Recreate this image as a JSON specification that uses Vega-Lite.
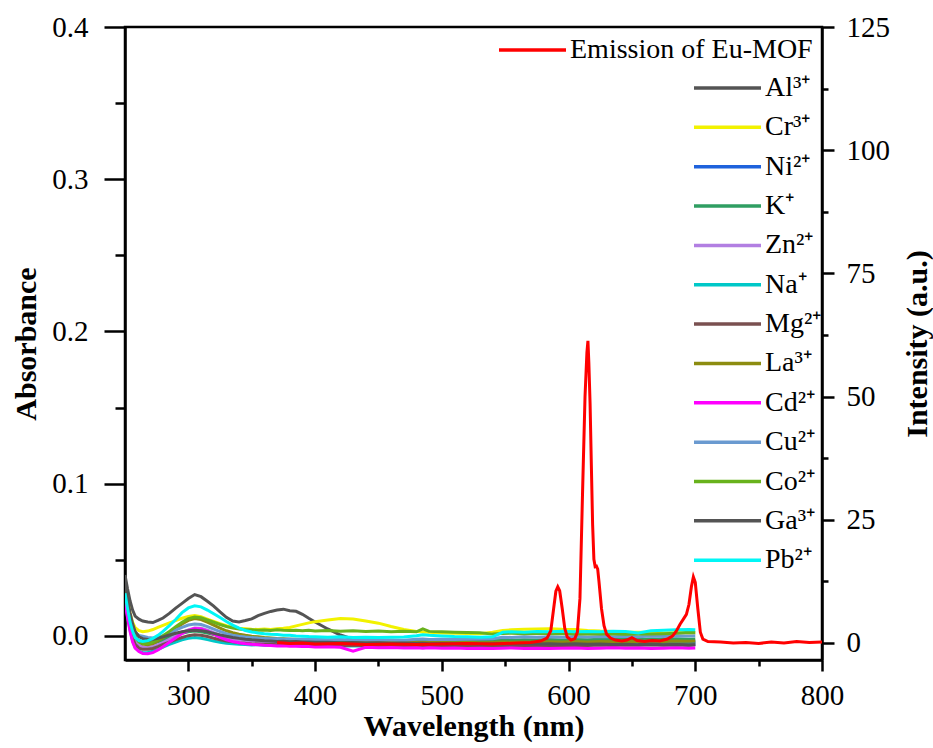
{
  "$schema": "https://vega.github.io/schema/vega-lite/v6.json",
  "width": 697,
  "height": 633,
  "autosize": {"type": "none"},
  "padding": {"left": 125, "top": 27, "right": 111, "bottom": 88},
  "background": "white",
  "config": {
    "font": "Liberation Serif",
    "view": {"stroke": "black", "strokeWidth": 2.5},
    "axis": {
      "domainColor": "black", "domainWidth": 2.5, "tickColor": "black", "tickWidth": 2.5,
      "labelColor": "black", "labelFont": "Liberation Serif", "labelFontSize": 29,
      "titleFont": "Liberation Serif", "titleFontSize": 30, "titleFontWeight": "bold", "titleColor": "black",
      "grid": false, "labelFlush": false, "labelOverlap": false
    },
    "legend": {
      "labelFont": "Liberation Serif", "labelFontSize": 28, "labelColor": "black", "labelLimit": 0,
      "symbolType": "stroke", "symbolSize": 4489, "symbolStrokeWidth": 3.5, "padding": 0, "offset": 0,
      "clipHeight": 28, "rowPadding": 11.35, "labelOffset": 2
    }
  },
  "datasets": {
    "abs": [
      {"w":250,"Al":0.040,"Cr":0.033,"Ni":0.027,"K":0.026,"Zn":0.025,"Na":0.024,"Mg":0.025,"La":0.030,"Cd":0.022,"Cu":0.029,"Co":0.030,"Ga":0.036,"Pb":0.028},
      {"w":252,"Al":0.031,"Cr":0.023,"Ni":0.017,"K":0.016,"Zn":0.015,"Na":0.013,"Mg":0.014,"La":0.020,"Cd":0.012,"Cu":0.020,"Co":0.020,"Ga":0.025,"Pb":0.018},
      {"w":254,"Al":0.023,"Cr":0.015,"Ni":0.009,"K":0.008,"Zn":0.007,"Na":0.004,"Mg":0.006,"La":0.012,"Cd":0.003,"Cu":0.011,"Co":0.011,"Ga":0.015,"Pb":0.009},
      {"w":256,"Al":0.017,"Cr":0.009,"Ni":0.003,"K":0.002,"Zn":0.001,"Na":-0.003,"Mg":-0.001,"La":0.005,"Cd":-0.004,"Cu":0.005,"Co":0.004,"Ga":0.008,"Pb":0.003},
      {"w":258,"Al":0.013,"Cr":0.0055,"Ni":-0.0005,"K":-0.0015,"Zn":-0.003,"Na":-0.0075,"Mg":-0.0055,"La":0.0,"Cd":-0.008,"Cu":0.002,"Co":-0.001,"Ga":0.003,"Pb":-0.001},
      {"w":261,"Al":0.011,"Cr":0.0035,"Ni":-0.003,"K":-0.004,"Zn":-0.006,"Na":-0.010,"Mg":-0.008,"La":-0.0038,"Cd":-0.0102,"Cu":0.0004,"Co":-0.0038,"Ga":-0.0005,"Pb":-0.003},
      {"w":264,"Al":0.0098,"Cr":0.0028,"Ni":-0.004,"K":-0.005,"Zn":-0.0072,"Na":-0.011,"Mg":-0.0088,"La":-0.0053,"Cd":-0.0115,"Cu":-0.0002,"Co":-0.0049,"Ga":-0.0018,"Pb":-0.0036},
      {"w":268,"Al":0.0092,"Cr":0.0032,"Ni":-0.0044,"K":-0.0053,"Zn":-0.0075,"Na":-0.0108,"Mg":-0.0088,"La":-0.0058,"Cd":-0.0117,"Cu":-0.001,"Co":-0.0051,"Ga":-0.0024,"Pb":-0.0031},
      {"w":272,"Al":0.0088,"Cr":0.0042,"Ni":-0.004,"K":-0.0049,"Zn":-0.007,"Na":-0.0101,"Mg":-0.0082,"La":-0.005,"Cd":-0.011,"Cu":-0.0014,"Co":-0.0041,"Ga":-0.0022,"Pb":-0.0016},
      {"w":276,"Al":0.0102,"Cr":0.0056,"Ni":-0.003,"K":-0.0039,"Zn":-0.0058,"Na":-0.0088,"Mg":-0.007,"La":-0.0032,"Cd":-0.0092,"Cu":-0.0009,"Co":-0.0021,"Ga":-0.0015,"Pb":0.0004},
      {"w":280,"Al":0.0118,"Cr":0.007,"Ni":-0.0019,"K":-0.0027,"Zn":-0.0043,"Na":-0.0073,"Mg":-0.0056,"La":-0.0012,"Cd":-0.0071,"Cu":0.0002,"Co":0.0001,"Ga":-0.0006,"Pb":0.003},
      {"w":285,"Al":0.0148,"Cr":0.0086,"Ni":-0.0004,"K":-0.0011,"Zn":-0.0022,"Na":-0.0056,"Mg":-0.004,"La":0.0017,"Cd":-0.0042,"Cu":0.0019,"Co":0.003,"Ga":0.0006,"Pb":0.0068},
      {"w":290,"Al":0.0183,"Cr":0.0101,"Ni":0.001,"K":0.0004,"Zn":0.0,"Na":-0.004,"Mg":-0.0024,"La":0.0048,"Cd":-0.0012,"Cu":0.0038,"Co":0.0061,"Ga":0.0018,"Pb":0.0108},
      {"w":295,"Al":0.0214,"Cr":0.0116,"Ni":0.0024,"K":0.0018,"Zn":0.0022,"Na":-0.0026,"Mg":-0.001,"La":0.0078,"Cd":0.0016,"Cu":0.0057,"Co":0.009,"Ga":0.0028,"Pb":0.0153},
      {"w":300,"Al":0.0246,"Cr":0.0128,"Ni":0.0034,"K":0.0028,"Zn":0.004,"Na":-0.0016,"Mg":0.0002,"La":0.0102,"Cd":0.0037,"Cu":0.0072,"Co":0.0113,"Ga":0.0035,"Pb":0.0184},
      {"w":305,"Al":0.0272,"Cr":0.0134,"Ni":0.0039,"K":0.0032,"Zn":0.0052,"Na":-0.0011,"Mg":0.0008,"La":0.0114,"Cd":0.0048,"Cu":0.0079,"Co":0.0124,"Ga":0.0038,"Pb":0.0198},
      {"w":310,"Al":0.0258,"Cr":0.0126,"Ni":0.0034,"K":0.0028,"Zn":0.005,"Na":-0.0015,"Mg":0.0005,"La":0.0108,"Cd":0.0045,"Cu":0.0075,"Co":0.0119,"Ga":0.0035,"Pb":0.0191},
      {"w":315,"Al":0.0228,"Cr":0.0111,"Ni":0.0025,"K":0.0019,"Zn":0.0038,"Na":-0.0024,"Mg":-0.0004,"La":0.0091,"Cd":0.0031,"Cu":0.0061,"Co":0.0105,"Ga":0.0027,"Pb":0.017},
      {"w":320,"Al":0.0196,"Cr":0.0096,"Ni":0.0014,"K":0.0009,"Zn":0.0022,"Na":-0.0034,"Mg":-0.0015,"La":0.0071,"Cd":0.0011,"Cu":0.0045,"Co":0.009,"Ga":0.0017,"Pb":0.0146},
      {"w":325,"Al":0.0158,"Cr":0.0081,"Ni":0.0004,"K":-0.0001,"Zn":0.0006,"Na":-0.0042,"Mg":-0.0025,"La":0.0051,"Cd":-0.0009,"Cu":0.0029,"Co":0.0075,"Ga":0.0007,"Pb":0.0121},
      {"w":330,"Al":0.0122,"Cr":0.0067,"Ni":-0.0005,"K":-0.0009,"Zn":-0.0008,"Na":-0.0048,"Mg":-0.0033,"La":0.0034,"Cd":-0.0025,"Cu":0.0015,"Co":0.0062,"Ga":-0.0002,"Pb":0.0095},
      {"w":335,"Al":0.0098,"Cr":0.0057,"Ni":-0.0011,"K":-0.0015,"Zn":-0.0018,"Na":-0.0052,"Mg":-0.0039,"La":0.0021,"Cd":-0.0036,"Cu":0.0005,"Co":0.0052,"Ga":-0.001,"Pb":0.0071},
      {"w":340,"Al":0.0092,"Cr":0.005,"Ni":-0.0016,"K":-0.0019,"Zn":-0.0025,"Na":-0.0055,"Mg":-0.0044,"La":0.0011,"Cd":-0.0045,"Cu":-0.0002,"Co":0.0046,"Ga":-0.0016,"Pb":0.0051},
      {"w":345,"Al":0.0101,"Cr":0.0047,"Ni":-0.0019,"K":-0.0022,"Zn":-0.003,"Na":-0.0057,"Mg":-0.0048,"La":0.0004,"Cd":-0.0051,"Cu":-0.0007,"Co":0.0041,"Ga":-0.0021,"Pb":0.0036},
      {"w":350,"Al":0.0112,"Cr":0.0044,"Ni":-0.0021,"K":-0.0024,"Zn":-0.0034,"Na":-0.0059,"Mg":-0.0051,"La":-0.0002,"Cd":-0.0055,"Cu":-0.0011,"Co":0.004,"Ga":-0.0025,"Pb":0.0026},
      {"w":355,"Al":0.0133,"Cr":0.0042,"Ni":-0.0024,"K":-0.0023,"Zn":-0.0037,"Na":-0.0058,"Mg":-0.0053,"La":-0.0006,"Cd":-0.0058,"Cu":-0.0014,"Co":0.0037,"Ga":-0.0028,"Pb":0.002},
      {"w":360,"Al":0.0148,"Cr":0.0046,"Ni":-0.0022,"K":-0.0026,"Zn":-0.004,"Na":-0.0061,"Mg":-0.0055,"La":-0.001,"Cd":-0.0061,"Cu":-0.0016,"Co":0.0039,"Ga":-0.0031,"Pb":0.0015},
      {"w":365,"Al":0.0161,"Cr":0.0043,"Ni":-0.0026,"K":-0.0024,"Zn":-0.0042,"Na":-0.0059,"Mg":-0.0054,"La":-0.0013,"Cd":-0.0063,"Cu":-0.0019,"Co":0.0036,"Ga":-0.0033,"Pb":0.0011},
      {"w":370,"Al":0.017,"Cr":0.0047,"Ni":-0.0024,"K":-0.0027,"Zn":-0.0044,"Na":-0.0062,"Mg":-0.0057,"La":-0.0016,"Cd":-0.0066,"Cu":-0.0018,"Co":0.004,"Ga":-0.0036,"Pb":0.0009},
      {"w":375,"Al":0.0176,"Cr":0.0051,"Ni":-0.0027,"K":-0.0025,"Zn":-0.0043,"Na":-0.006,"Mg":-0.0056,"La":-0.0018,"Cd":-0.0065,"Cu":-0.0021,"Co":0.0037,"Ga":-0.0035,"Pb":0.0005},
      {"w":380,"Al":0.0166,"Cr":0.0056,"Ni":-0.0025,"K":-0.0028,"Zn":-0.0046,"Na":-0.0063,"Mg":-0.0059,"La":-0.0021,"Cd":-0.0068,"Cu":-0.002,"Co":0.0035,"Ga":-0.0038,"Pb":0.0004},
      {"w":385,"Al":0.0162,"Cr":0.0066,"Ni":-0.0028,"K":-0.0026,"Zn":-0.0045,"Na":-0.0061,"Mg":-0.0058,"La":-0.0022,"Cd":-0.0067,"Cu":-0.0023,"Co":0.0038,"Ga":-0.0037,"Pb":0.0},
      {"w":390,"Al":0.0142,"Cr":0.0076,"Ni":-0.0026,"K":-0.0029,"Zn":-0.0048,"Na":-0.0064,"Mg":-0.0061,"La":-0.0025,"Cd":-0.007,"Cu":-0.0022,"Co":0.0034,"Ga":-0.004,"Pb":-0.0002},
      {"w":395,"Al":0.0116,"Cr":0.0086,"Ni":-0.0029,"K":-0.0027,"Zn":-0.0046,"Na":-0.0062,"Mg":-0.0059,"La":-0.0026,"Cd":-0.0069,"Cu":-0.0024,"Co":0.0037,"Ga":-0.0039,"Pb":-0.0004},
      {"w":400,"Al":0.0092,"Cr":0.0094,"Ni":-0.0027,"K":-0.003,"Zn":-0.0049,"Na":-0.0065,"Mg":-0.0062,"La":-0.0029,"Cd":-0.0072,"Cu":-0.0023,"Co":0.0033,"Ga":-0.0042,"Pb":-0.0005},
      {"w":410,"Al":0.0046,"Cr":0.0104,"Ni":-0.003,"K":-0.0028,"Zn":-0.0047,"Na":-0.0063,"Mg":-0.006,"La":-0.0031,"Cd":-0.0071,"Cu":-0.0025,"Co":0.0035,"Ga":-0.0041,"Pb":-0.0008},
      {"w":420,"Al":0.0006,"Cr":0.0114,"Ni":-0.0028,"K":-0.0031,"Zn":-0.005,"Na":-0.0066,"Mg":-0.0063,"La":-0.0034,"Cd":-0.0074,"Cu":-0.0024,"Co":0.0031,"Ga":-0.0044,"Pb":-0.0006},
      {"w":430,"Al":-0.0022,"Cr":0.0112,"Ni":-0.0031,"K":-0.0029,"Zn":-0.0048,"Na":-0.0064,"Mg":-0.0061,"La":-0.0035,"Cd":-0.0100,"Cu":-0.0026,"Co":0.0034,"Ga":-0.0043,"Pb":-0.001},
      {"w":440,"Al":-0.0038,"Cr":0.0098,"Ni":-0.0029,"K":-0.0032,"Zn":-0.0051,"Na":-0.0067,"Mg":-0.0064,"La":-0.0038,"Cd":-0.0075,"Cu":-0.0025,"Co":0.0029,"Ga":-0.0046,"Pb":-0.0008},
      {"w":450,"Al":-0.0047,"Cr":0.0084,"Ni":-0.0032,"K":-0.003,"Zn":-0.0049,"Na":-0.0065,"Mg":-0.0062,"La":-0.0037,"Cd":-0.0078,"Cu":-0.0027,"Co":0.0032,"Ga":-0.0045,"Pb":-0.0011},
      {"w":460,"Al":-0.0051,"Cr":0.0062,"Ni":-0.003,"K":-0.0033,"Zn":-0.0052,"Na":-0.0068,"Mg":-0.0065,"La":-0.004,"Cd":-0.0076,"Cu":-0.0026,"Co":0.0028,"Ga":-0.0048,"Pb":-0.0009},
      {"w":470,"Al":-0.0049,"Cr":0.0042,"Ni":-0.0033,"K":-0.0031,"Zn":-0.005,"Na":-0.0066,"Mg":-0.0063,"La":-0.0039,"Cd":-0.0079,"Cu":-0.0028,"Co":0.0031,"Ga":-0.0047,"Pb":-0.0007},
      {"w":480,"Al":-0.0054,"Cr":0.003,"Ni":-0.0031,"K":-0.0028,"Zn":-0.0053,"Na":-0.0064,"Mg":-0.0066,"La":-0.0042,"Cd":-0.0077,"Cu":-0.0022,"Co":0.0027,"Ga":-0.005,"Pb":0.0002},
      {"w":485,"Al":-0.005,"Cr":0.0026,"Ni":-0.0029,"K":-0.0026,"Zn":-0.0051,"Na":-0.0062,"Mg":-0.0064,"La":-0.004,"Cd":-0.008,"Cu":-0.002,"Co":0.0046,"Ga":-0.0048,"Pb":0.0008},
      {"w":490,"Al":-0.0053,"Cr":0.0024,"Ni":-0.0032,"K":-0.0029,"Zn":-0.0054,"Na":-0.0065,"Mg":-0.0067,"La":-0.0043,"Cd":-0.0078,"Cu":-0.0023,"Co":0.003,"Ga":-0.0051,"Pb":0.0004},
      {"w":500,"Al":-0.0048,"Cr":0.002,"Ni":-0.003,"K":-0.0027,"Zn":-0.0052,"Na":-0.0063,"Mg":-0.0065,"La":-0.0041,"Cd":-0.0081,"Cu":-0.0021,"Co":0.0027,"Ga":-0.0049,"Pb":0.0},
      {"w":510,"Al":-0.0052,"Cr":0.0018,"Ni":-0.0033,"K":-0.003,"Zn":-0.0055,"Na":-0.0066,"Mg":-0.0068,"La":-0.0044,"Cd":-0.0079,"Cu":-0.0024,"Co":0.0025,"Ga":-0.0052,"Pb":-0.0004},
      {"w":520,"Al":-0.0049,"Cr":0.0016,"Ni":-0.0031,"K":-0.0028,"Zn":-0.0053,"Na":-0.0064,"Mg":-0.0066,"La":-0.0042,"Cd":-0.0082,"Cu":-0.0022,"Co":0.0023,"Ga":-0.005,"Pb":-0.0006},
      {"w":530,"Al":-0.0054,"Cr":0.0014,"Ni":-0.0034,"K":-0.0031,"Zn":-0.0056,"Na":-0.0067,"Mg":-0.0069,"La":-0.0045,"Cd":-0.008,"Cu":-0.002,"Co":0.0021,"Ga":-0.0053,"Pb":-0.0009},
      {"w":540,"Al":-0.005,"Cr":0.0024,"Ni":-0.0032,"K":-0.0029,"Zn":-0.0054,"Na":-0.0065,"Mg":-0.0067,"La":-0.0043,"Cd":-0.0083,"Cu":-0.0018,"Co":0.0012,"Ga":-0.0051,"Pb":-0.0006},
      {"w":548,"Al":-0.0046,"Cr":0.0036,"Ni":-0.003,"K":-0.0026,"Zn":-0.0052,"Na":-0.006,"Mg":-0.0064,"La":-0.004,"Cd":-0.0081,"Cu":-0.0008,"Co":0.0016,"Ga":-0.0049,"Pb":0.0024},
      {"w":555,"Al":-0.0049,"Cr":0.004,"Ni":-0.0033,"K":-0.0028,"Zn":-0.0055,"Na":-0.0062,"Mg":-0.0066,"La":-0.0042,"Cd":-0.0079,"Cu":-0.001,"Co":0.0018,"Ga":-0.0052,"Pb":0.0028},
      {"w":565,"Al":-0.0045,"Cr":0.0044,"Ni":-0.0031,"K":-0.0025,"Zn":-0.0053,"Na":-0.0059,"Mg":-0.0063,"La":-0.0039,"Cd":-0.0082,"Cu":-0.0006,"Co":0.0015,"Ga":-0.005,"Pb":0.0025},
      {"w":575,"Al":-0.0048,"Cr":0.0046,"Ni":-0.0034,"K":-0.0027,"Zn":-0.0056,"Na":-0.0061,"Mg":-0.0065,"La":-0.0041,"Cd":-0.008,"Cu":-0.0009,"Co":0.0017,"Ga":-0.0053,"Pb":0.003},
      {"w":585,"Al":-0.0044,"Cr":0.0048,"Ni":-0.0032,"K":-0.0024,"Zn":-0.0054,"Na":-0.0058,"Mg":-0.0062,"La":-0.0038,"Cd":-0.0083,"Cu":-0.0005,"Co":0.0014,"Ga":-0.0051,"Pb":0.0027},
      {"w":595,"Al":-0.0047,"Cr":0.0044,"Ni":-0.0035,"K":-0.0026,"Zn":-0.0057,"Na":-0.006,"Mg":-0.0064,"La":-0.004,"Cd":-0.0081,"Cu":-0.0008,"Co":0.0016,"Ga":-0.0054,"Pb":0.0031},
      {"w":605,"Al":-0.0043,"Cr":0.0042,"Ni":-0.0033,"K":-0.0023,"Zn":-0.0055,"Na":-0.0057,"Mg":-0.0061,"La":-0.0037,"Cd":-0.0079,"Cu":-0.0004,"Co":0.0013,"Ga":-0.0052,"Pb":0.0028},
      {"w":615,"Al":-0.0046,"Cr":0.0036,"Ni":-0.0036,"K":-0.0025,"Zn":-0.0058,"Na":-0.0059,"Mg":-0.0063,"La":-0.0039,"Cd":-0.0082,"Cu":-0.0007,"Co":0.0015,"Ga":-0.0055,"Pb":0.003},
      {"w":625,"Al":-0.0042,"Cr":0.0032,"Ni":-0.0034,"K":-0.0022,"Zn":-0.0056,"Na":-0.0056,"Mg":-0.006,"La":-0.0036,"Cd":-0.008,"Cu":-0.0003,"Co":0.0012,"Ga":-0.0053,"Pb":0.0027},
      {"w":635,"Al":-0.0045,"Cr":0.003,"Ni":-0.0037,"K":-0.0024,"Zn":-0.0059,"Na":-0.0058,"Mg":-0.0062,"La":-0.0038,"Cd":-0.0078,"Cu":-0.0006,"Co":0.0014,"Ga":-0.0056,"Pb":0.0031},
      {"w":645,"Al":-0.0041,"Cr":0.0026,"Ni":-0.0035,"K":-0.0021,"Zn":-0.0057,"Na":-0.0055,"Mg":-0.0059,"La":-0.0035,"Cd":-0.0081,"Cu":-0.0002,"Co":0.0011,"Ga":-0.0054,"Pb":0.0029},
      {"w":655,"Al":-0.0044,"Cr":0.0024,"Ni":-0.0038,"K":-0.0023,"Zn":-0.006,"Na":-0.0057,"Mg":-0.0061,"La":-0.0037,"Cd":-0.0079,"Cu":-0.0005,"Co":0.0013,"Ga":-0.0057,"Pb":0.002},
      {"w":665,"Al":-0.004,"Cr":0.0022,"Ni":-0.0036,"K":-0.002,"Zn":-0.0058,"Na":-0.0054,"Mg":-0.0058,"La":-0.0034,"Cd":-0.0082,"Cu":0.0,"Co":0.0012,"Ga":-0.0055,"Pb":0.0034},
      {"w":675,"Al":-0.0043,"Cr":0.002,"Ni":-0.0039,"K":-0.0022,"Zn":-0.0061,"Na":-0.0056,"Mg":-0.006,"La":-0.0036,"Cd":-0.008,"Cu":-0.0003,"Co":0.0015,"Ga":-0.0058,"Pb":0.0038},
      {"w":685,"Al":-0.0039,"Cr":0.0022,"Ni":-0.0037,"K":-0.0019,"Zn":-0.0059,"Na":-0.0053,"Mg":-0.0057,"La":-0.0033,"Cd":-0.0078,"Cu":0.0002,"Co":0.0018,"Ga":-0.0056,"Pb":0.004},
      {"w":695,"Al":-0.0042,"Cr":0.0018,"Ni":-0.004,"K":-0.0021,"Zn":-0.0062,"Na":-0.0055,"Mg":-0.0059,"La":-0.0035,"Cd":-0.0081,"Cu":0.0,"Co":0.0024,"Ga":-0.0059,"Pb":0.0043},
      {"w":700,"Al":-0.004,"Cr":0.002,"Ni":-0.0038,"K":-0.002,"Zn":-0.006,"Na":-0.0054,"Mg":-0.0058,"La":-0.0034,"Cd":-0.0079,"Cu":0.0001,"Co":0.0022,"Ga":-0.0057,"Pb":0.0041}
    ],
    "em": [
      {"w":370,"I":0.1},{"w":380,"I":-0.1},{"w":390,"I":0.0},{"w":400,"I":-0.2},{"w":420,"I":-0.1},{"w":440,"I":-0.3},{"w":460,"I":-0.2},{"w":480,"I":-0.3},{"w":500,"I":-0.2},{"w":520,"I":-0.1},{"w":540,"I":-0.2},{"w":560,"I":0.0},{"w":570,"I":0.1},{"w":578,"I":0.4},{"w":583,"I":1.0},{"w":586,"I":2.5},{"w":588,"I":6.5},{"w":590,"I":10.5},{"w":591.5,"I":11.4},{"w":593,"I":10.6},{"w":595,"I":7.0},{"w":597,"I":3.0},{"w":599,"I":1.2},{"w":602,"I":0.6},{"w":605,"I":0.9},{"w":607,"I":2.2},{"w":609,"I":9.0},{"w":611,"I":30.0},{"w":613,"I":50.0},{"w":614.5,"I":59.0},{"w":615.3,"I":61.3},{"w":616,"I":57.0},{"w":617,"I":48.5},{"w":618,"I":36.0},{"w":619,"I":24.0},{"w":620,"I":17.0},{"w":621,"I":15.5},{"w":622,"I":15.6},{"w":623,"I":15.0},{"w":624,"I":12.5},{"w":626,"I":7.0},{"w":628,"I":3.5},{"w":630,"I":1.8},{"w":633,"I":1.0},{"w":637,"I":0.6},{"w":642,"I":0.4},{"w":646,"I":0.6},{"w":650,"I":1.1},{"w":654,"I":0.5},{"w":660,"I":0.3},{"w":666,"I":0.5},{"w":672,"I":0.4},{"w":678,"I":0.8},{"w":682,"I":1.4},{"w":685,"I":2.4},{"w":688,"I":3.8},{"w":691,"I":5.0},{"w":693,"I":5.8},{"w":695,"I":7.8},{"w":697,"I":11.5},{"w":698.5,"I":13.4},{"w":700,"I":12.3},{"w":702,"I":7.0},{"w":704,"I":2.2},{"w":706,"I":0.8},{"w":710,"I":0.3},{"w":720,"I":0.2},{"w":730,"I":0.0},{"w":740,"I":0.1},{"w":750,"I":-0.1},{"w":760,"I":0.2},{"w":770,"I":0.0},{"w":780,"I":0.3},{"w":790,"I":0.1},{"w":800,"I":0.2}
    ]
  },
  "encoding": {
    "x": {
      "field": "w", "type": "quantitative",
      "scale": {"domain": [250, 800], "nice": false, "zero": false},
      "axis": {
        "orient": "bottom", "title": "Wavelength (nm)",
        "values": [300, 350, 400, 450, 500, 550, 600, 650, 700, 750, 800],
        "labelExpr": "datum.value % 100 == 0 ? datum.label : ''",
        "tickSize": {"condition": {"test": "datum.value % 100 == 0", "value": 11}, "value": 6},
        "labelPadding": 10, "titlePadding": 1
      }
    }
  },
  "layer": [
    {
      "data": {"name": "abs"},
      "transform": [{"fold": ["Al", "Cr", "Ni", "K", "Zn", "Na", "Mg", "La", "Cd", "Cu", "Co", "Ga", "Pb"], "as": ["ion", "A"]}],
      "mark": {"type": "line", "strokeWidth": 3, "clip": true},
      "encoding": {
        "y": {
          "field": "A", "type": "quantitative",
          "scale": {"domain": [-0.0158, 0.4], "nice": false, "zero": false},
          "axis": {
            "orient": "left", "title": "Absorbance",
            "values": [0, 0.05, 0.1, 0.15, 0.2, 0.25, 0.3, 0.35, 0.4],
            "labelExpr": "abs(datum.value*10 - round(datum.value*10)) < 0.001 ? format(datum.value, '.1f') : ''",
            "tickSize": {"condition": {"test": "abs(datum.value*10 - round(datum.value*10)) < 0.001", "value": 21}, "value": 10},
            "labelPadding": 16, "titlePadding": 10
          }
        },
        "color": {
          "field": "ion", "type": "nominal",
          "scale": {
            "domain": ["Al", "Cr", "Ni", "K", "Zn", "Na", "Mg", "La", "Cd", "Cu", "Co", "Ga", "Pb"],
            "range": ["#545454", "#f2f200", "#1f62dc", "#2f9e62", "#b27fe2", "#00c8c8", "#7a5050", "#8c8c10", "#ff00ff", "#6a9ad0", "#68b21c", "#545454", "#00f6f6"]
          },
          "legend": {
            "orient": "none", "legendX": 567, "legendY": 47, "title": null,
            "labelExpr": "{'Al':'Al³⁺','Cr':'Cr³⁺','Ni':'Ni²⁺','K':'K⁺','Zn':'Zn²⁺','Na':'Na⁺','Mg':'Mg²⁺','La':'La³⁺','Cd':'Cd²⁺','Cu':'Cu²⁺','Co':'Co²⁺','Ga':'Ga³⁺','Pb':'Pb²⁺'}[datum.label]"
          }
        }
      }
    },
    {
      "data": {"name": "em"},
      "mark": {"type": "line", "strokeWidth": 3, "clip": true},
      "encoding": {
        "y": {
          "field": "I", "type": "quantitative",
          "scale": {"domain": [-3.45, 125], "nice": false, "zero": false},
          "axis": {
            "orient": "right", "title": "Intensity (a.u.)", "titleAngle": 270,
            "values": [0, 12.5, 25, 37.5, 50, 62.5, 75, 87.5, 100, 112.5, 125],
            "labelExpr": "datum.value % 25 == 0 ? datum.label : ''",
            "tickSize": {"condition": {"test": "datum.value % 25 == 0", "value": 12}, "value": 6},
            "labelPadding": 12, "titlePadding": 43
          }
        },
        "color": {
          "datum": "Emission of Eu-MOF", "type": "nominal",
          "scale": {"range": ["#ff0000"]},
          "legend": {"orient": "none", "legendX": 372, "legendY": 9, "title": null}
        }
      }
    }
  ],
  "resolve": {"scale": {"y": "independent", "color": "independent"}}
}
